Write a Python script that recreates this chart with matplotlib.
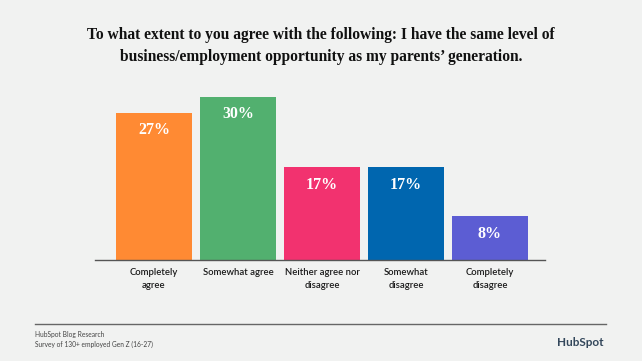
import matplotlib.pyplot as plt

title = "To what extent to you agree with the following: I have the same level of\nbusiness/employment opportunity as my parents\u2019 generation."
categories = ["Completely\nagree", "Somewhat agree", "Neither agree nor\ndisagree",
              "Somewhat\ndisagree", "Completely\ndisagree"]
values = [27, 30, 17, 17, 8]
colors = ["#FF8A33", "#52B06F", "#F2326F", "#0066AF", "#5C5DD3"]
source_lines = ["HubSpot Blog Research", "Survey of 130+ employed Gen Z (16-27)"]

bg = "#F1F2F1"
W, H = 642, 361

fig = plt.figure(figsize=(W / 100, H / 100), dpi=100, facecolor=bg)

# axes placed in pixel terms: x 95..545, baseline at y=260 from top
scale = 5.45  # px per percent
ymax = 32
ax = fig.add_axes([95 / W, (H - 260) / H, 450 / W, scale * ymax / H])
ax.set_facecolor(bg)

x = list(range(len(values)))
bars = ax.bar(x, values, width=0.905, color=colors, zorder=2)
ax.set_xlim(-0.702, 4.655)
ax.set_ylim(0, ymax)

for rect, v in zip(bars, values):
    ax.annotate(f"{v}%", (rect.get_x() + rect.get_width() / 2, v),
                xytext=(0, -12.5), textcoords="offset points",
                ha="center", va="center", color="white",
                fontsize=11.5, fontweight="bold", family="Liberation Serif")

for s in ["top", "right", "left"]:
    ax.spines[s].set_visible(False)
ax.spines["bottom"].set_color("#555555")
ax.spines["bottom"].set_linewidth(1.0)
ax.set_yticks([])
ax.set_xticks(x)
ax.set_xticklabels(categories, fontsize=6.8, family="Lato", color="#1a1a1a",
                   linespacing=1.5, va="top", fontweight="semibold")
ax.tick_params(axis="x", length=0, pad=6)

fig.text(0.5, 1 - 46 / H, title, ha="center", va="center", fontsize=11.2,
         fontweight="bold", family="Liberation Serif", color="#111111",
         linespacing=1.45)

# footer
fig.add_artist(plt.Line2D([35 / W, 606 / W], [1 - 324 / H] * 2,
                          color="#666666", linewidth=1.0))
fig.text(35 / W, 1 - 334 / H, source_lines[0], fontsize=4.8, family="Lato",
         color="#444444", va="center")
fig.text(35 / W, 1 - 344 / H, source_lines[1], fontsize=4.8, family="Lato",
         color="#444444", va="center")
fig.text(604 / W, 1 - 343 / H, "HubSpot", fontsize=8.5, fontweight="bold",
         family="Lato", color="#33475B", ha="right", va="center")

fig.savefig("out.png", dpi=100, facecolor=bg)
